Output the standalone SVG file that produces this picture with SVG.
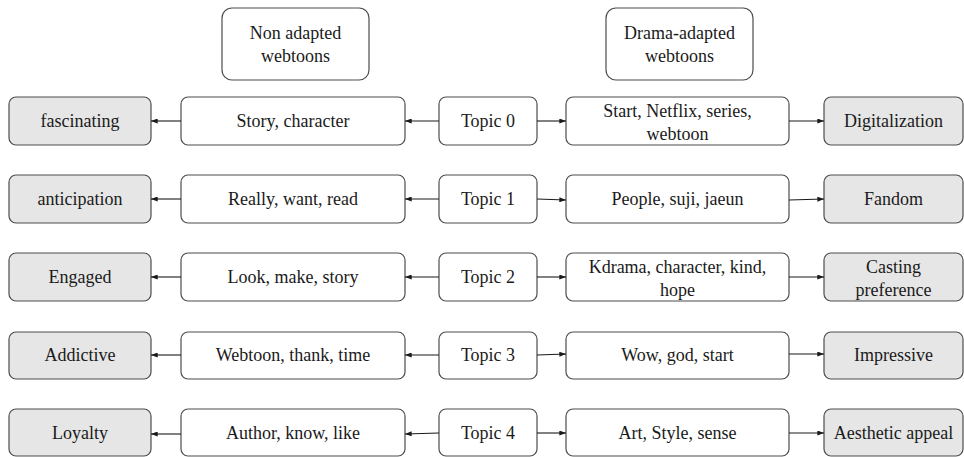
<svg xmlns="http://www.w3.org/2000/svg" width="964" height="457" viewBox="0 0 964 457" font-family="Liberation Serif, Times New Roman, DejaVu Serif, serif">
<defs>
<style>
.box{fill:#fff;stroke:#4d4d4d;stroke-width:1.2}
.gray{fill:#e6e6e6;stroke:#4d4d4d;stroke-width:1.2}
text{font-size:18px;fill:#1a1a1a;text-anchor:middle}
.c line{stroke:#1a1a1a;stroke-width:1.1;marker-end:url(#ah)}
</style>
<marker id="ah" viewBox="0 0 8 6" refX="8" refY="3" markerWidth="7" markerHeight="5" markerUnits="userSpaceOnUse" orient="auto">
<path d="M0,0 L8,3 L0,6 Z" fill="#1a1a1a"/>
</marker>
</defs>

<g id="hdr-non"><rect class="box" x="222" y="8" width="147" height="72" rx="10"/><text x="295.5" y="39">Non adapted</text><text x="295.5" y="62">webtoons</text></g>
<g id="hdr-drama"><rect class="box" x="606" y="8" width="147" height="72" rx="10"/><text x="679.5" y="39">Drama-adapted</text><text x="679.5" y="62">webtoons</text></g>

<g id="r0-l"><rect class="gray" x="9" y="97" width="142" height="48" rx="7"/><text x="80" y="127">fascinating</text></g>
<g id="r0-n"><rect class="box" x="181" y="97" width="224" height="48" rx="7"/><text x="293" y="127">Story, character</text></g>
<g id="r0-t"><rect class="box" x="439" y="97" width="98" height="48" rx="7"/><text x="488" y="127">Topic 0</text></g>
<g id="r0-d"><rect class="box" x="566" y="97" width="223" height="48" rx="7"/><text x="677.5" y="117">Start, Netflix, series,</text><text x="677.5" y="140">webtoon</text></g>
<g id="r0-r"><rect class="gray" x="824" y="97" width="139" height="48" rx="7"/><text x="893.5" y="127">Digitalization</text></g>

<g id="r1-l"><rect class="gray" x="9" y="175" width="142" height="48" rx="7"/><text x="80" y="205">anticipation</text></g>
<g id="r1-n"><rect class="box" x="181" y="175" width="224" height="48" rx="7"/><text x="293" y="205">Really, want, read</text></g>
<g id="r1-t"><rect class="box" x="439" y="175" width="98" height="48" rx="7"/><text x="488" y="205">Topic 1</text></g>
<g id="r1-d"><rect class="box" x="566" y="175" width="223" height="48" rx="7"/><text x="677.5" y="205">People, suji, jaeun</text></g>
<g id="r1-r"><rect class="gray" x="824" y="175" width="139" height="48" rx="7"/><text x="893.5" y="205">Fandom</text></g>

<g id="r2-l"><rect class="gray" x="9" y="253" width="142" height="48" rx="7"/><text x="80" y="283">Engaged</text></g>
<g id="r2-n"><rect class="box" x="181" y="253" width="224" height="48" rx="7"/><text x="293" y="283">Look, make, story</text></g>
<g id="r2-t"><rect class="box" x="439" y="253" width="98" height="48" rx="7"/><text x="488" y="283">Topic 2</text></g>
<g id="r2-d"><rect class="box" x="566" y="253" width="223" height="48" rx="7"/><text x="677.5" y="273">Kdrama, character, kind,</text><text x="677.5" y="296">hope</text></g>
<g id="r2-r"><rect class="gray" x="824" y="253" width="139" height="48" rx="7"/><text x="893.5" y="273">Casting</text><text x="893.5" y="296">preference</text></g>

<g id="r3-l"><rect class="gray" x="9" y="332" width="142" height="47" rx="7"/><text x="80" y="361">Addictive</text></g>
<g id="r3-n"><rect class="box" x="181" y="332" width="224" height="47" rx="7"/><text x="293" y="361">Webtoon, thank, time</text></g>
<g id="r3-t"><rect class="box" x="439" y="332" width="98" height="47" rx="7"/><text x="488" y="361">Topic 3</text></g>
<g id="r3-d"><rect class="box" x="566" y="332" width="223" height="47" rx="7"/><text x="677.5" y="361">Wow, god, start</text></g>
<g id="r3-r"><rect class="gray" x="824" y="332" width="139" height="47" rx="7"/><text x="893.5" y="361">Impressive</text></g>

<g id="r4-l"><rect class="gray" x="9" y="409" width="142" height="47" rx="7"/><text x="80" y="439">Loyalty</text></g>
<g id="r4-n"><rect class="box" x="181" y="409" width="224" height="47" rx="7"/><text x="293" y="439">Author, know, like</text></g>
<g id="r4-t"><rect class="box" x="439" y="409" width="98" height="47" rx="7"/><text x="488" y="439">Topic 4</text></g>
<g id="r4-d"><rect class="box" x="566" y="409" width="223" height="47" rx="7"/><text x="677.5" y="439">Art, Style, sense</text></g>
<g id="r4-r"><rect class="gray" x="824" y="409" width="139" height="47" rx="7"/><text x="893.5" y="439">Aesthetic appeal</text></g>

<g id="connectors" class="c">
<line x1="439" y1="121" x2="405" y2="121"/><line x1="181" y1="121" x2="151" y2="121"/><line x1="537" y1="121" x2="566" y2="121"/><line x1="789" y1="121" x2="824" y2="121"/>
<line x1="439" y1="199" x2="405" y2="199"/><line x1="181" y1="199" x2="151" y2="199"/><line x1="537" y1="199" x2="566" y2="200"/><line x1="789" y1="200" x2="824" y2="199"/>
<line x1="439" y1="277" x2="405" y2="277"/><line x1="181" y1="277" x2="151" y2="277"/><line x1="537" y1="277" x2="566" y2="277"/><line x1="789" y1="277" x2="824" y2="277"/>
<line x1="439" y1="355" x2="405" y2="355"/><line x1="181" y1="355" x2="151" y2="355"/><line x1="537" y1="355" x2="566" y2="354"/><line x1="789" y1="354" x2="824" y2="354"/>
<line x1="439" y1="433" x2="405" y2="434"/><line x1="181" y1="434" x2="151" y2="434"/><line x1="537" y1="433" x2="566" y2="433"/><line x1="789" y1="433" x2="824" y2="433"/>
</g>
</svg>
